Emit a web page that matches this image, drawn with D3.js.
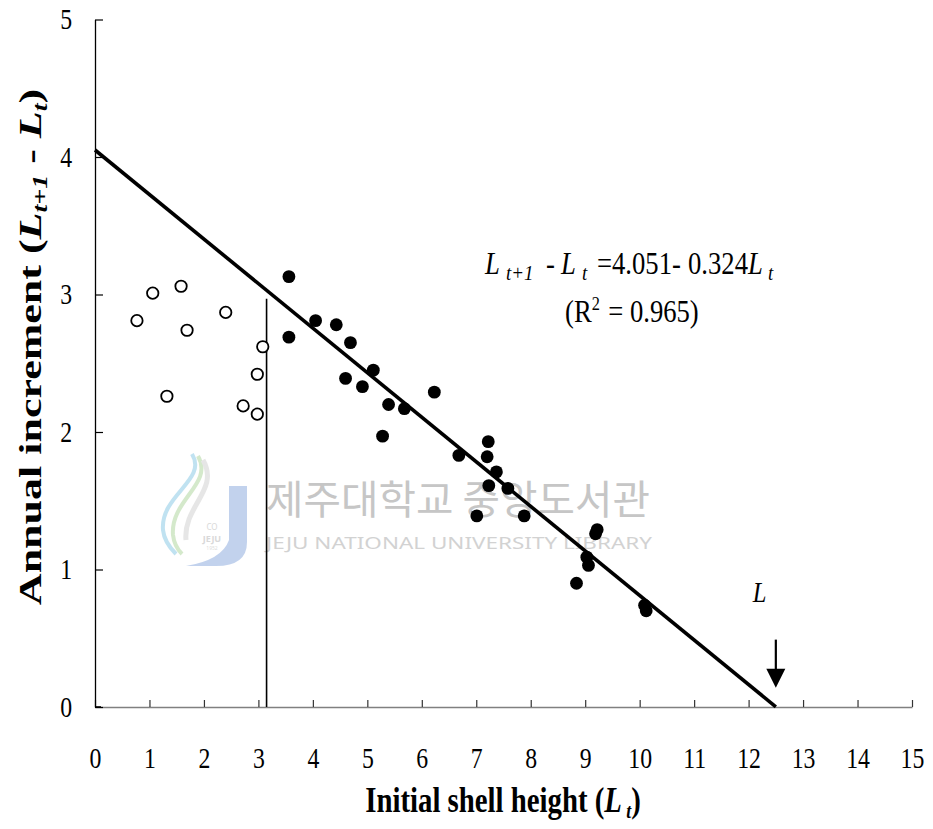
<!DOCTYPE html>
<html>
<head>
<meta charset="utf-8">
<script src="https://cdn.jsdelivr.net/npm/d3@7"></script>
<style>
  body { margin: 0; background: #fff; }
  svg { display: block; }
</style>
</head>
<body>
<svg id="chart" width="933" height="829"></svg>
<script>
// ---- data -------------------------------------------------------------
const xTicks = [0, 1, 2, 3, 4, 5, 6, 7, 8, 9, 10, 11, 12, 13, 14, 15];
const yTicks = [0, 1, 2, 3, 4, 5];

// individuals excluded from the fit (open circles)
const openX = [0.77, 1.06, 1.58, 1.69, 2.40, 1.32, 3.08, 2.98, 2.72, 2.98];
const openY = [2.81, 3.01, 3.06, 2.74, 2.87, 2.26, 2.62, 2.42, 2.19, 2.13];

// individuals used in the regression (filled circles)
const filledX = [3.56, 3.56, 4.05, 4.43, 4.69, 5.11, 4.60, 4.91, 5.39, 5.68, 6.23, 5.28, 6.68, 7.22,
                 7.20, 7.37, 7.23, 7.58, 7.01, 7.88, 9.22, 9.19, 9.03, 9.06, 8.84, 10.09, 10.12];
const filledY = [3.13, 2.69, 2.81, 2.78, 2.65, 2.45, 2.39, 2.33, 2.20, 2.17, 2.29, 1.97, 1.83, 1.93,
                 1.82, 1.71, 1.61, 1.59, 1.39, 1.39, 1.29, 1.26, 1.09, 1.03, 0.90, 0.74, 0.70];

// Ford-Walford type regression: L(t+1) - L(t) = a - b * L(t)
const intercept = 4.051;
const slope = 0.324;
const rSquared = 0.965;
const fitRange = [0, 12.5];

// size threshold separating the two groups
const cutoffX = 3.15;
const cutoffTop = 2.97;

// asymptotic length marker
const arrowX = 12.5;
const arrowTop = 0.49;
const arrowTip = 0.14;
const arrowLabelPos = [12.2, 0.84];

// ---- layout -------------------------------------------------------------
const SX = 0.82;            // horizontal squeeze applied to glyphs
const serif = "'Liberation Serif', 'Times New Roman', serif";
const svg = d3.select("#chart");

const x = d3.scaleLinear().domain([0, 15]).range([95, 912]);
const y = d3.scaleLinear().domain([0, 5]).range([707, 19.5]);

// ---- watermark (behind everything) ------------------------------------
const wm = svg.append("g").attr("class", "watermark");
const logo = wm.append("g").attr("transform", "translate(150,440)").attr("opacity", 0.7);
logo.append("path")
  .attr("d", "M42,14 C58,40 10,55 13,90 C14,100 20,108 26,114")
  .attr("fill", "none").attr("stroke", "#a6d6ec").attr("stroke-width", 4);
logo.append("path")
  .attr("d", "M48,16 C64,44 20,60 23,95 C24,104 28,110 32,114")
  .attr("fill", "none").attr("stroke", "#c3e0b6").attr("stroke-width", 4);
logo.append("path")
  .attr("d", "M53,20 C70,50 33,66 36,100")
  .attr("fill", "none").attr("stroke", "#dcdcdc").attr("stroke-width", 5);
logo.append("path")
  .attr("d", "M79,46 L97,46 L97,102 Q97,126 66,126 L36,126 Q72,120 79,100 Z")
  .attr("fill", "#a9c0e6");
logo.append("text").attr("x", 62).attr("y", 90).attr("text-anchor", "middle")
  .attr("font-family", "Noto Sans").attr("font-size", 8).attr("fill", "#c9c9c9").text("CO");
logo.append("text").attr("x", 62).attr("y", 102).attr("text-anchor", "middle")
  .attr("font-family", "Noto Sans").attr("font-weight", 700).attr("font-size", 9).attr("fill", "#c9c9c9").text("JEJU");
logo.append("text").attr("x", 62).attr("y", 110).attr("text-anchor", "middle")
  .attr("font-family", "Noto Sans").attr("font-size", 5).attr("fill", "#cfcfcf").text("1952");

wm.append("text")
  .attr("x", 266).attr("y", 514)
  .attr("font-family", "'Noto Sans CJK KR', sans-serif")
  .attr("font-size", 40).attr("fill", "#c6c6c6")
  .attr("textLength", 384).attr("lengthAdjust", "spacingAndGlyphs")
  .text("제주대학교 중앙도서관");
wm.append("text")
  .attr("x", 266).attr("y", 549)
  .attr("font-family", "'Noto Sans', sans-serif")
  .attr("font-size", 17).attr("fill", "#d2d2d2")
  .attr("textLength", 386).attr("lengthAdjust", "spacingAndGlyphs")
  .text("JEJU NATIONAL UNIVERSITY   LIBRARY");

// ---- axes -----------------------------------------------------------------
const xAxis = d3.axisBottom(x).tickValues(xTicks).tickFormat(d3.format("d"))
  .tickSizeInner(-7).tickSizeOuter(0).tickPadding(40);
const gx = svg.append("g").attr("transform", `translate(0,${y(0)})`).call(xAxis);
gx.select(".domain").attr("stroke", "#808080").attr("stroke-width", 1.6);
gx.selectAll(".tick line").attr("stroke", "#333").attr("stroke-width", 1.2);
gx.selectAll(".tick text")
  .attr("font-family", serif).attr("font-size", 29).attr("fill", "#000")
  .attr("transform", `scale(${SX},1)`);

const yPad = 23;
const yAxis = d3.axisLeft(y).tickValues(yTicks).tickFormat(d3.format("d"))
  .tickSizeInner(-8).tickSizeOuter(0).tickPadding(yPad);
const gy = svg.append("g").attr("transform", `translate(${x(0)},0)`).call(yAxis);
gy.select(".domain").attr("stroke", "#000").attr("stroke-width", 1.3);
gy.selectAll(".tick line").attr("stroke", "#000").attr("stroke-width", 1.2);
gy.selectAll(".tick text")
  .attr("font-family", serif).attr("font-size", 29).attr("fill", "#000")
  .attr("x", -yPad / SX)
  .attr("transform", `scale(${SX},1)`);
// black corner where the axes meet
svg.append("line").attr("x1", x(0)).attr("x2", x(0) + 6).attr("y1", y(0)).attr("y2", y(0))
  .attr("stroke", "#000").attr("stroke-width", 1.6);

// ---- threshold line ----------------------------------------------------
svg.append("line")
  .attr("x1", x(cutoffX)).attr("x2", x(cutoffX))
  .attr("y1", y(0)).attr("y2", y(cutoffTop))
  .attr("stroke", "#000").attr("stroke-width", 1.6);

// ---- regression line ---------------------------------------------------
const fitLine = d3.line().x(d => x(d)).y(d => y(intercept - slope * d));
svg.append("path")
  .datum(fitRange)
  .attr("d", fitLine)
  .attr("fill", "none").attr("stroke", "#000").attr("stroke-width", 3.6);

// ---- points ---------------------------------------------------------------
svg.append("g").selectAll("circle")
  .data(d3.zip(openX, openY))
  .join("circle")
  .attr("cx", d => x(d[0])).attr("cy", d => y(d[1])).attr("r", 5.7)
  .attr("fill", "#fff").attr("stroke", "#000").attr("stroke-width", 1.8);

svg.append("g").selectAll("circle")
  .data(d3.zip(filledX, filledY))
  .join("circle")
  .attr("cx", d => x(d[0])).attr("cy", d => y(d[1])).attr("r", 6.4)
  .attr("fill", "#000");

// ---- asymptote arrow ----------------------------------------------------
const headLen = 19, headHalf = 9.5;
svg.append("line")
  .attr("x1", x(arrowX)).attr("x2", x(arrowX))
  .attr("y1", y(arrowTop)).attr("y2", y(arrowTip) - headLen + 1)
  .attr("stroke", "#000").attr("stroke-width", 2.2);
svg.append("path")
  .attr("d", `M${x(arrowX)},${y(arrowTip)} L${x(arrowX) - headHalf},${y(arrowTip) - headLen} L${x(arrowX) + headHalf},${y(arrowTip) - headLen} Z`)
  .attr("fill", "#000");
svg.append("text")
  .attr("transform", `translate(${x(arrowLabelPos[0])},${y(arrowLabelPos[1]) + 10}) scale(${SX},1)`)
  .attr("text-anchor", "middle")
  .attr("font-family", serif).attr("font-style", "italic").attr("font-size", 30)
  .text("L");

// ---- equation -------------------------------------------------------------
const EQ = 0.86;   // squeeze for the equation block
function eqText(xp, yp) {
  return svg.append("text")
    .attr("transform", `translate(${xp},${yp}) scale(${EQ},1)`)
    .attr("font-family", serif).attr("font-size", 31).attr("fill", "#000");
}
const eqX0 = 485;
const at = px => (px - eqX0) / EQ;   // screen x -> local x inside the squeezed block
const eq = eqText(eqX0, 274);
eq.append("tspan").attr("x", at(485)).attr("font-style", "italic").text("L");
eq.append("tspan").attr("x", at(506)).attr("dy", 6).attr("font-style", "italic").attr("font-size", 22).text("t+1");
eq.append("tspan").attr("x", at(546)).attr("dy", -6).text("-");
eq.append("tspan").attr("x", at(561)).attr("font-style", "italic").text("L");
eq.append("tspan").attr("x", at(582)).attr("dy", 6).attr("font-style", "italic").attr("font-size", 22).text("t");
eq.append("tspan").attr("x", at(597)).attr("dy", -6).text("=" + intercept.toFixed(3) + "-");
eq.append("tspan").attr("x", at(688)).text(slope.toFixed(3));
eq.append("tspan").attr("font-style", "italic").text("L");
eq.append("tspan").attr("dx", 6).attr("dy", 6).attr("font-style", "italic").attr("font-size", 22).text("t");

const r2 = eqText(565, 322);
r2.append("tspan").text("(R");
r2.append("tspan").attr("font-size", 19).attr("dy", -12).text("2");
r2.append("tspan").attr("dy", 12).attr("dx", 2).text(" = " + rSquared.toFixed(3) + ")");

// ---- axis titles ------------------------------------------------------------
const xTitle = svg.append("text")
  .attr("transform", `translate(503,812) scale(0.8,1)`)
  .attr("text-anchor", "middle")
  .attr("font-family", serif).attr("font-weight", 700).attr("font-size", 36);
xTitle.append("tspan").text("Initial shell height (");
xTitle.append("tspan").attr("font-style", "italic").text("L");
xTitle.append("tspan").attr("font-style", "italic").attr("font-size", 22).attr("dy", 6).text(" t");
xTitle.append("tspan").attr("dy", -6).text(")");

const yTitle = svg.append("text")
  .attr("transform", `translate(41,347) rotate(-90) scale(1,0.74)`)
  .attr("text-anchor", "middle")
  .attr("font-family", serif).attr("font-weight", 700).attr("font-size", 44);
yTitle.append("tspan").text("Annual increment (");
yTitle.append("tspan").attr("font-style", "italic").text("L");
yTitle.append("tspan").attr("font-style", "italic").attr("font-size", 28).attr("dy", 8).text("t+1");
yTitle.append("tspan").attr("dy", -8).text(" - ");
yTitle.append("tspan").attr("font-style", "italic").text("L");
yTitle.append("tspan").attr("font-style", "italic").attr("font-size", 28).attr("dy", 8).text("t");
yTitle.append("tspan").attr("dy", -8).text(")");
</script>
</body>
</html>
